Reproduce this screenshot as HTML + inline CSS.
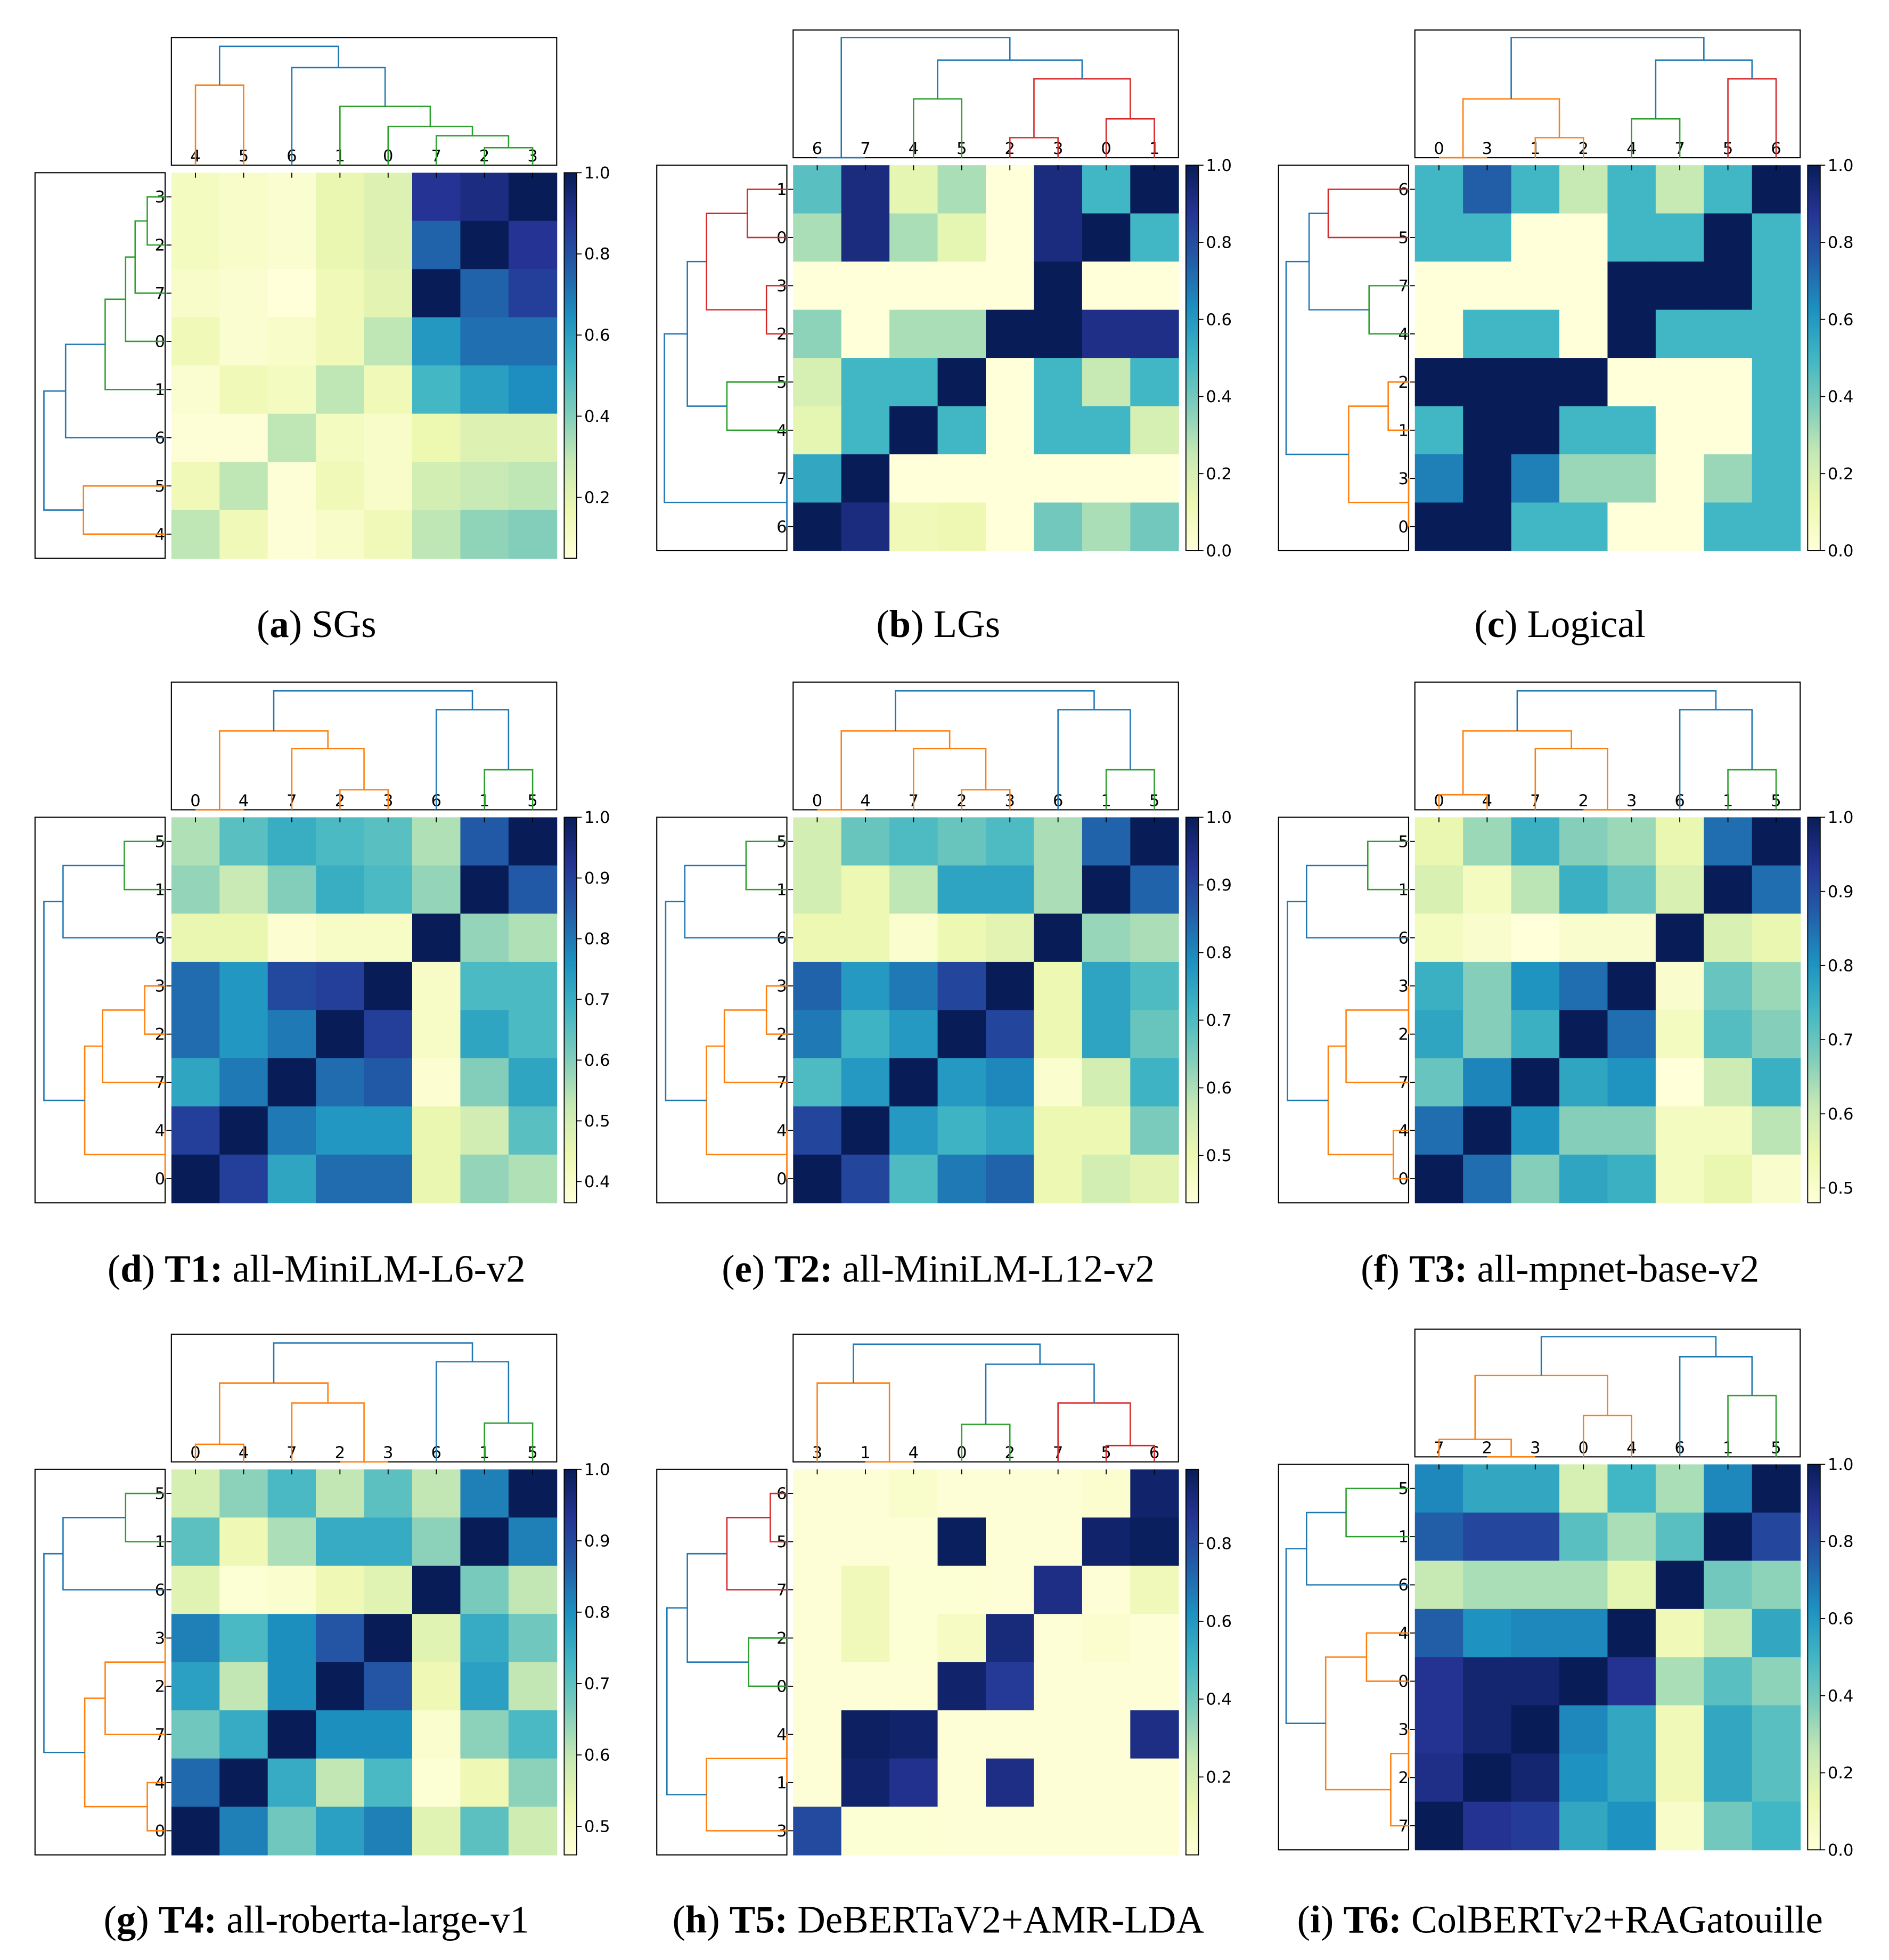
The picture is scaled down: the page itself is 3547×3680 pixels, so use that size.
<!DOCTYPE html>
<html><head><meta charset="utf-8"><style>
html,body{margin:0;padding:0;background:#fff;}
svg{display:block;}
</style></head><body>
<svg id="fig" xmlns="http://www.w3.org/2000/svg" width="3547" height="3680" viewBox="0 0 1510 1566" preserveAspectRatio="none">
<defs>
<linearGradient id="ylgnbu" x1="0" y1="1" x2="0" y2="0">
<stop offset="0" stop-color="#ffffd9"/><stop offset="0.125" stop-color="#edf8b1"/><stop offset="0.25" stop-color="#c7e9b4"/><stop offset="0.375" stop-color="#7fcdbb"/><stop offset="0.5" stop-color="#41b6c4"/><stop offset="0.625" stop-color="#1d91c0"/><stop offset="0.75" stop-color="#225ea8"/><stop offset="0.875" stop-color="#253494"/><stop offset="1" stop-color="#081d58"/>
</linearGradient>
</defs>
<rect x="0" y="0" width="1510" height="1566" fill="#fff"/>
</svg>
<script>
// ---- data ----
const sgCols=[4,5,6,1,0,7,2,3];
const sgRows=[3,2,7,0,1,6,5,4];
const sgValues=[
[0.12,0.1,0.08,0.18,0.22,0.88,0.92,1.0],
[0.12,0.1,0.08,0.18,0.22,0.75,1.0,0.88],
[0.1,0.08,0.05,0.15,0.2,1.0,0.75,0.85],
[0.15,0.08,0.1,0.15,0.3,0.62,0.72,0.72],
[0.08,0.15,0.12,0.3,0.15,0.52,0.6,0.65],
[0.06,0.06,0.3,0.12,0.1,0.17,0.22,0.22],
[0.15,0.3,0.06,0.15,0.1,0.25,0.28,0.3],
[0.3,0.15,0.06,0.1,0.15,0.3,0.38,0.4]];
const lgCols=[6,7,4,5,2,3,0,1];
const lgRows=[1,0,3,2,5,4,7,6];
const lgValues=[
[0.45,0.92,0.15,0.3,0,0.92,0.5,1],
[0.3,0.92,0.3,0.15,0,0.92,1,0.5],
[0,0,0,0,0,1,0,0],
[0.35,0,0.3,0.3,1,1,0.9,0.9],
[0.2,0.5,0.5,1,0,0.5,0.25,0.5],
[0.15,0.5,1,0.5,0,0.5,0.5,0.2],
[0.55,1,0,0,0,0,0,0],
[1,0.92,0.1,0.12,0,0.4,0.3,0.4]];
const logCols=[0,3,1,2,4,7,5,6];
const logRows=[6,5,7,4,2,1,3,0];
const logValues=[
[0.5,0.75,0.5,0.25,0.5,0.25,0.5,1],
[0.5,0.5,0,0,0.5,0.5,1,0.5],
[0,0,0,0,1,1,1,0.5],
[0,0.5,0.5,0,1,0.5,0.5,0.5],
[1,1,1,1,0,0,0,0.5],
[0.5,1,1,0.5,0.5,0,0,0.5],
[0.67,1,0.67,0.33,0.33,0,0.33,0.5],
[1,1,0.5,0.5,0,0,0.5,0.5]];
const t1Cols=[0,4,7,2,3,6,1,5];
const t1Rows=[5,1,6,3,2,7,4,0];
const t1Values=[
[0.55,0.65,0.7,0.67,0.65,0.55,0.85,1],
[0.58,0.52,0.6,0.7,0.67,0.58,1,0.85],
[0.45,0.45,0.38,0.4,0.4,1,0.58,0.55],
[0.82,0.75,0.88,0.9,1,0.4,0.67,0.67],
[0.82,0.75,0.8,1,0.9,0.4,0.72,0.67],
[0.72,0.8,1,0.82,0.85,0.38,0.6,0.72],
[0.9,1,0.8,0.75,0.75,0.45,0.5,0.65],
[1,0.9,0.72,0.82,0.82,0.45,0.58,0.55]];
const t2Cols=[0,4,7,2,3,6,1,5];
const t2Rows=[5,1,6,3,2,7,4,0];
const t2Values=[
[0.55,0.67,0.7,0.67,0.7,0.6,0.85,1],
[0.55,0.5,0.58,0.75,0.75,0.6,1,0.85],
[0.5,0.5,0.45,0.5,0.52,1,0.62,0.6],
[0.85,0.77,0.82,0.9,1,0.5,0.75,0.7],
[0.82,0.72,0.77,1,0.9,0.5,0.75,0.67],
[0.7,0.77,1,0.77,0.8,0.45,0.55,0.72],
[0.9,1,0.77,0.72,0.75,0.5,0.5,0.65],
[1,0.9,0.7,0.82,0.85,0.5,0.55,0.52]];
const t3Cols=[0,4,7,2,3,6,1,5];
const t3Rows=[5,1,6,3,2,7,4,0];
const t3Values=[
[0.55,0.65,0.75,0.67,0.65,0.55,0.85,1],
[0.58,0.52,0.62,0.75,0.7,0.58,1,0.85],
[0.52,0.5,0.48,0.5,0.5,1,0.58,0.55],
[0.75,0.67,0.8,0.85,1,0.5,0.7,0.65],
[0.77,0.67,0.75,1,0.85,0.52,0.72,0.67],
[0.7,0.82,1,0.77,0.8,0.48,0.6,0.75],
[0.85,1,0.8,0.67,0.67,0.52,0.52,0.62],
[1,0.85,0.67,0.77,0.75,0.52,0.55,0.5]];
const t4Cols=[0,4,7,2,3,6,1,5];
const t4Rows=[5,1,6,3,2,7,4,0];
const t4Values=[
[0.57,0.65,0.72,0.6,0.7,0.6,0.82,1],
[0.7,0.52,0.62,0.75,0.75,0.65,1,0.82],
[0.55,0.47,0.48,0.52,0.55,1,0.67,0.6],
[0.82,0.72,0.8,0.88,1,0.55,0.75,0.68],
[0.77,0.6,0.8,1,0.88,0.52,0.77,0.6],
[0.68,0.75,1,0.8,0.8,0.48,0.65,0.72],
[0.85,1,0.75,0.6,0.72,0.47,0.52,0.65],
[1,0.82,0.68,0.77,0.82,0.55,0.7,0.58]];
const t5Cols=[3,1,4,0,2,7,5,6];
const t5Rows=[6,5,7,2,0,4,1,3];
const t5Values=[
[0.01,0.01,0.04,0.01,0.01,0.01,0.03,0.95],
[0.01,0.01,0.01,0.98,0.01,0.01,0.95,0.98],
[0.01,0.1,0.02,0.02,0.01,0.9,0.01,0.1],
[0.01,0.1,0.02,0.07,0.92,0.01,0.03,0.01],
[0.01,0.01,0.01,0.95,0.85,0.01,0.01,0.01],
[0.01,0.97,0.95,0.01,0.01,0.01,0.01,0.9],
[0.01,0.95,0.88,0.01,0.9,0.01,0.01,0.01],
[0.8,0.02,0.02,0.01,0.01,0.01,0.01,0.01]];
const t6Cols=[7,2,3,0,4,6,1,5];
const t6Rows=[5,1,6,4,0,3,2,7];
const t6Values=[
[0.65,0.55,0.55,0.2,0.5,0.3,0.65,1],
[0.75,0.82,0.82,0.45,0.3,0.45,1,0.82],
[0.25,0.3,0.3,0.3,0.15,1,0.4,0.35],
[0.75,0.62,0.65,0.65,1,0.1,0.25,0.55],
[0.88,0.95,0.95,1,0.88,0.3,0.45,0.35],
[0.88,0.95,1,0.65,0.55,0.1,0.55,0.45],
[0.9,1,0.95,0.62,0.55,0.1,0.55,0.45],
[1,0.88,0.85,0.55,0.62,0.05,0.4,0.5]];
const sgTicks=[0.2,0.4,0.6,0.8,1.0];
const unitTicks=[0.0,0.2,0.4,0.6,0.8,1.0];
const t1Ticks=[0.4,0.5,0.6,0.7,0.8,0.9,1.0];
const tHalfTicks=[0.5,0.6,0.7,0.8,0.9,1.0];
const t5Ticks=[0.2,0.4,0.6,0.8];

// dendrogram structures: [left, right, height, color]
const O='#ff7f0e',G='#2ca02c',R='#d62728',B='#1f77b4';
const treeA=[[0,1,0.64,O],[2,[3,[4,[5,[6,7,0.14,G],0.235,G],0.31,G],0.47,G],0.78,B],0.95,B];
const treeB=[[0,1,0.0,B],[[2,3,0.47,G],[[4,5,0.16,R],[6,7,0.31,R],0.63,R],0.78,B],0.96,B];
const treeC=[[[0,1,0,O],[2,3,0.16,O],0.47,O],[[4,5,0.31,G],[6,7,0.63,R],0.78,B],0.96,B];
const treeD=[[[0,1,0,O],[2,[3,4,0.16,O],0.49,O],0.63,O],[5,[6,7,0.32,G],0.8,B],0.95,B];
const treeF=[[[0,1,0.12,O],[2,[3,4,0.0,O],0.49,O],0.63,O],[5,[6,7,0.32,G],0.8,B],0.95,B];
const treeG=[[[0,1,0.14,O],[2,[3,4,0.0,O],0.47,O],0.63,O],[5,[6,7,0.31,G],0.8,B],0.95,B];
const treeH=[[0,[1,2,0,O],0.63,O],[[3,4,0.3,G],[5,[6,7,0.13,R],0.47,R],0.78,B],0.94,B];
const treeI=[[[0,[1,2,0,O],0.14,O],[3,4,0.33,O],0.65,O],[5,[6,7,0.49,G],0.8,B],0.96,B];

const panels=[
{id:'a',X:137,Y:138,cols:sgCols,rows:sgRows,vals:sgValues,vmin:0.05,vmax:1.0,ticks:sgTicks,tree:treeA,cap:['a','','SGs']},
{id:'b',X:634,Y:132,cols:lgCols,rows:lgRows,vals:lgValues,vmin:0,vmax:1,ticks:unitTicks,tree:treeB,cap:['b','','LGs']},
{id:'c',X:1131,Y:132,cols:logCols,rows:logRows,vals:logValues,vmin:0,vmax:1,ticks:unitTicks,tree:treeC,cap:['c','','Logical']},
{id:'d',X:137,Y:653,cols:t1Cols,rows:t1Rows,vals:t1Values,vmin:0.365,vmax:1,ticks:t1Ticks,tree:treeD,cap:['d','T1:','all-MiniLM-L6-v2']},
{id:'e',X:634,Y:653,cols:t2Cols,rows:t2Rows,vals:t2Values,vmin:0.43,vmax:1,ticks:tHalfTicks,tree:treeD,cap:['e','T2:','all-MiniLM-L12-v2']},
{id:'f',X:1131,Y:653,cols:t3Cols,rows:t3Rows,vals:t3Values,vmin:0.48,vmax:1,ticks:tHalfTicks,tree:treeF,cap:['f','T3:','all-mpnet-base-v2']},
{id:'g',X:137,Y:1174,cols:t4Cols,rows:t4Rows,vals:t4Values,vmin:0.46,vmax:1,ticks:tHalfTicks,tree:treeG,cap:['g','T4:','all-roberta-large-v1']},
{id:'h',X:634,Y:1174,cols:t5Cols,rows:t5Rows,vals:t5Values,vmin:0,vmax:0.99,ticks:t5Ticks,tree:treeH,cap:['h','T5:','DeBERTaV2+AMR-LDA']},
{id:'i',X:1131,Y:1170,cols:t6Cols,rows:t6Rows,vals:t6Values,vmin:0,vmax:1,ticks:unitTicks,tree:treeI,cap:['i','T6:','ColBERTv2+RAGatouille']}
];
const capY=[509,1024,1544];

// ---- rendering ----
const NS='http://www.w3.org/2000/svg';
const svg=document.getElementById('fig');
const stops=[[255,255,217],[237,248,177],[199,233,180],[127,205,187],[65,182,196],[29,145,192],[34,94,168],[37,52,148],[8,29,88]];
function cmap(t){t=Math.max(0,Math.min(1,t));const p=t*8;const i=Math.min(7,Math.floor(p));const f=p-i;const a=stops[i],b=stops[i+1];
return 'rgb('+[0,1,2].map(k=>Math.round(a[k]+(b[k]-a[k])*f)).join(',')+')';}
function mk(tag,attrs,parent){const e=document.createElementNS(NS,tag);for(const k in attrs)e.setAttribute(k,attrs[k]);(parent||svg).appendChild(e);return e;}
const CELL=38.5,SIZE=308;
panels.forEach((P,pi)=>{
  const g=mk('g',{});
  
  
  const X=P.X,Y=P.Y;
  const xs=i=>X+CELL/2+CELL*i;
  const ys=i=>Y+CELL/2+CELL*i;
  const cscale=v=>(v-P.vmin)/(P.vmax-P.vmin);
  const hm=mk('g',{},g);
  
  
  P.vals.forEach((row,r)=>row.forEach((v,c)=>{
    const rc=mk('rect',{x:X+CELL*c,y:Y+CELL*r,width:CELL+0.4,height:CELL+0.4,fill:cmap(cscale(v))},hm);
    
    
  }));
  P.cols.forEach((lab,i)=>{
    const t=mk('text',{x:xs(i),y:Y-9,'font-size':13,'font-family':'DejaVu Sans, sans-serif','text-anchor':'middle',fill:'#000'},g);
    t.textContent=lab;
    
    
    mk('line',{x1:xs(i),x2:xs(i),y1:Y,y2:Y+4,stroke:'#000','stroke-width':0.8},g);
  });
  P.rows.forEach((lab,i)=>{
    const t=mk('text',{x:X-5,y:ys(i)+4.5,'font-size':13,'font-family':'DejaVu Sans, sans-serif','text-anchor':'end',fill:'#000'},g);
    t.textContent=lab;
    
    
    mk('line',{x1:X-4,x2:X,y1:ys(i),y2:ys(i),stroke:'#000','stroke-width':0.8},g);
  });
  const tb=mk('rect',{x:X,y:Y-108,width:SIZE,height:102,fill:'none',stroke:'#000','stroke-width':0.9},g);
  
  
  const lb=mk('rect',{x:X-109,y:Y,width:104,height:SIZE,fill:'none',stroke:'#000','stroke-width':0.9},g);
  
  
  const topY=h=>Y-6-h*100;
  const leftX=h=>X-5-h*102;
  function walk(n){
    if(typeof n==='number')return {c:n,h:0};
    const L=walk(n[0]),Rr=walk(n[1]),h=n[2],col=n[3];
    mk('polyline',{points:[xs(L.c),topY(L.h),xs(L.c),topY(h),xs(Rr.c),topY(h),xs(Rr.c),topY(Rr.h)].join(','),fill:'none',stroke:col,'stroke-width':1.1},g);
    mk('polyline',{points:[leftX(L.h),ys(7-L.c),leftX(h),ys(7-L.c),leftX(h),ys(7-Rr.c),leftX(Rr.h),ys(7-Rr.c)].join(','),fill:'none',stroke:col,'stroke-width':1.1},g);
    return {c:(L.c+Rr.c)/2,h:h};
  }
  walk(P.tree);
  const cb=mk('rect',{x:X+314,y:Y,width:10,height:SIZE,fill:'url(#ylgnbu)',stroke:'#000','stroke-width':0.8},g);
  
  
  P.ticks.forEach(tv=>{
    const yy=Y+SIZE-cscale(tv)*SIZE;
    mk('line',{x1:X+324,x2:X+328,y1:yy,y2:yy,stroke:'#000','stroke-width':0.8},g);
    const t=mk('text',{x:X+330,y:yy+4.5,'font-size':13,'font-family':'DejaVu Sans, sans-serif',fill:'#000'},g);
    t.textContent=tv.toFixed(1);
    
    
  });
  const cx=X-109+(442)/2+4;
  const cap=mk('text',{x:cx,y:capY[Math.floor(pi/3)],'font-size':31,'font-family':'Liberation Serif, serif','text-anchor':'middle',fill:'#000'},g);
  
  
  const s1=mk('tspan',{},cap);s1.textContent='(';
  const s2=mk('tspan',{'font-weight':'bold'},cap);s2.textContent=P.cap[0];
  const s3=mk('tspan',{},cap);s3.textContent=')\u00a0';
  if(P.cap[1]){const s4=mk('tspan',{'font-weight':'bold'},cap);s4.textContent=P.cap[1]+'\u00a0';}
  const s5=mk('tspan',{},cap);s5.textContent=P.cap[2];
});
</script>
</body></html>
